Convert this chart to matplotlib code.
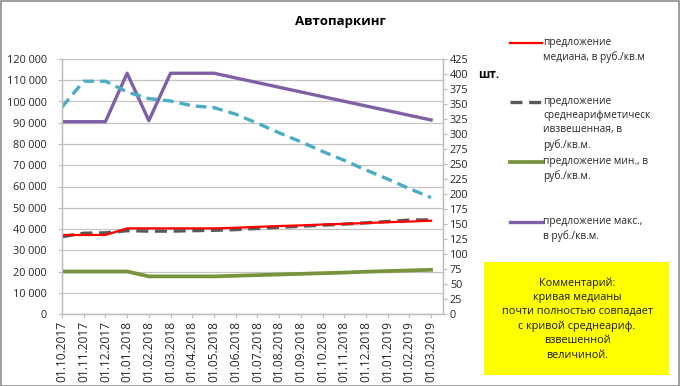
import matplotlib
matplotlib.use("Agg")
import matplotlib.pyplot as plt
from matplotlib.lines import Line2D
from matplotlib.patches import Rectangle
from matplotlib.ticker import FuncFormatter, MultipleLocator

plt.rcParams['font.family'] = ['Open Sans', 'DejaVu Sans']

dates = ['01.10.2017', '01.11.2017', '01.12.2017', '01.01.2018', '01.02.2018',
         '01.03.2018', '01.04.2018', '01.05.2018', '01.06.2018', '01.07.2018',
         '01.08.2018', '01.09.2018', '01.10.2018', '01.11.2018', '01.12.2018',
         '01.01.2019', '01.02.2019', '01.03.2019']

# руб./кв.м
median = [37200, 37200, 37200, 40300, 40300, 40300, 40300, 40300, 40600, 41000,
          41400, 41700, 42100, 42400, 42800, 43200, 43500, 43900]
weighted = [36400, 38000, 38200, 39200, 39000, 39000, 39200, 39400, 39700, 40300,
            40800, 41300, 41800, 42300, 42900, 43500, 44200, 44300]
minimum = [20000, 20000, 20000, 20000, 17700, 17700, 17700, 17700, 18000, 18300,
           18600, 18900, 19200, 19500, 19900, 20200, 20500, 20800]
# макс. - известные точки
max_idx = [0, 1, 2, 3, 4, 5, 6, 7, 17]
maximum = [90500, 90500, 90500, 113300, 91000, 113300, 113300, 113300, 91300]
# шт. (правая ось)
count = [345, 388, 388, 370, 359, 355, 347, 344, 333, 318,
         302, 287, 271, 256, 240, 225, 209, 194]

labels = ['предложение\nмедиана, в руб./кв.м',
          'предложение\nсреднеарифметическ\nивзвешенная, в\nруб./кв.м.',
          'предложение мин., в\nруб./кв.м.',
          'предложение макс.,\nв руб./кв.м.']

W, H = 680, 386
fig = plt.figure(figsize=(W / 100, H / 100), dpi=100)
ax = fig.add_axes([62 / W, 1 - 314 / H, (443 - 62) / W, (314 - 59) / H])
ax2 = ax.twinx()

x = list(range(len(dates)))
c_red, c_gray, c_green, c_purple, c_cyan = '#FF0000', '#595959', '#77933C', '#7F60A6', '#4BACC6'

ax.plot(x, median, color=c_red, lw=1.6, zorder=5)
ax.plot(x, weighted, color=c_gray, lw=2.4, dashes=(3.6, 2.0), zorder=4)
ax.plot(x, minimum, color=c_green, lw=2.7, zorder=4)
ax.plot(max_idx, maximum, color=c_purple, lw=2.4, zorder=4)
ax2.plot(x, count, color=c_cyan, lw=2.4, dashes=(3.2, 1.8))

ax.set_xlim(0, 17.55)
ax.set_ylim(0, 120000)
ax2.set_ylim(0, 425)
ax.yaxis.set_major_locator(MultipleLocator(10000))
ax2.yaxis.set_major_locator(MultipleLocator(25))
ax.yaxis.set_major_formatter(FuncFormatter(lambda v, p: f"{int(v):,}".replace(",", " ")))
ax.grid(axis='y', color='#C4C4C4', lw=0.9)
ax.set_axisbelow(True)
ax.set_xticks(x)
ax.set_xticklabels(dates, rotation=90, fontsize=8.6, color='#262626')

for a in (ax, ax2):
    for s in a.spines.values():
        s.set_color('#BDBDBD')
        s.set_linewidth(0.9)
    a.spines['top'].set_visible(False)
ax.tick_params(axis='y', length=3, pad=8, labelsize=7.8, colors='#BDBDBD', labelcolor='#262626')
ax.tick_params(axis='x', length=3, pad=2, colors='#BDBDBD', labelcolor='#262626')
ax2.tick_params(axis='y', length=3, pad=2, labelsize=7.8, colors='#BDBDBD', labelcolor='#262626')

fig.text(340 / W, 1 - 22 / H, 'Автопаркинг', ha='center', va='center',
         fontsize=9.5, fontweight='bold')
fig.text(478 / W, 1 - 74 / H, 'шт.', ha='left', va='center', fontsize=8.5, fontweight='bold')

# легенда
leg_y = [43, 102, 162, 222]
leg_style = [dict(color=c_red, lw=1.6),
             dict(color=c_gray, lw=2.4, dashes=(3.6, 2.0)),
             dict(color=c_green, lw=2.7),
             dict(color=c_purple, lw=2.4)]
for y, st, lab in zip(leg_y, leg_style, labels):
    fig.add_artist(Line2D([510 / W, 542 / W], [1 - y / H, 1 - y / H],
                          transform=fig.transFigure, **st))
    fig.text(543 / W, 1 - (y - 6) / H, lab, ha='left', va='top', fontsize=7.3,
             linespacing=1.4, color='#262626')

# комментарий
fig.add_artist(Rectangle((484 / W, 1 - 375 / H), (669 - 484) / W, (375 - 262) / H,
                         transform=fig.transFigure, facecolor='#FFFF00', edgecolor='none'))
fig.text(577 / W, 1 - 319 / H,
         'Комментарий:\nкривая медианы\nпочти полностью совпадает\nс кривой среднеариф.\nвзвешенной\nвеличиной.',
         ha='center', va='center', fontsize=7.8, linespacing=1.4, color='#1a1a1a')

fig.add_artist(Rectangle((0.5 / W, 0.5 / H), 1 - 1.5 / W, 1 - 1.5 / H,
                         transform=fig.transFigure, facecolor='none',
                         edgecolor='#8C8C8C', lw=1.2))

fig.savefig('out.png', dpi=100)
